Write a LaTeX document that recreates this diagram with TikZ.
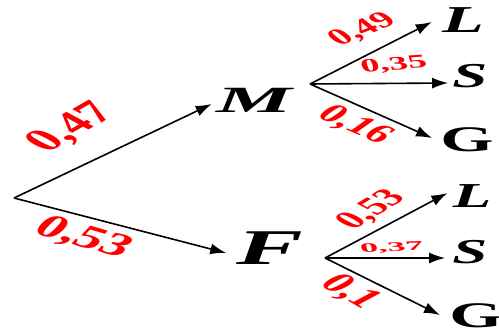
\documentclass[tikz,border=0pt]{standalone}
\usepackage{fontspec}
\setmainfont{Liberation Serif}
\usetikzlibrary{arrows.meta}

\begin{document}
\begin{tikzpicture}[x=1pt,y=-1pt,>={Latex[length=16pt,width=11pt]},
  branch/.style={->,line width=1.6pt},
  event/.style={inner sep=0pt,font=\bfseries\itshape\fontsize{#1}{#1}\selectfont},
  eventup/.style={inner sep=0pt,font=\bfseries\fontsize{#1}{#1}\selectfont},
  prob/.style={red,inner sep=0pt,font=\bfseries\fontsize{#1}{#1}\selectfont}]
  \useasboundingbox (0,0) rectangle (499,332);
  % First level
  \coordinate (root) at (14,198);
  \node[event=37,xscale=2.3] (M) at (254,100) {M};
  \node[event=50,xscale=2] (F) at (270,248) {F};
  \draw[branch] (root) -- ([xshift=-4pt,yshift=-4pt]M.west);
  \draw[branch] (root) -- ([xshift=-10pt,yshift=-5pt]F.west);
  \node[prob=32,xscale=1.8,rotate=46] (p47) at (72,128) {0,47};
  \node[prob=32,xscale=1.8,rotate=-28] (p53) at (83,238) {0,53};
  % Branches after M
  \coordinate (mB) at (310,84);
  \node[event=38,xscale=1.8] (L1) at (463,20) {L};
  \node[event=35,xscale=1.8] (S1) at (470,76) {S};
  \node[eventup=36,xscale=1.9] (G1) at (467,140) {G};
  \draw[branch] (mB) -- ([xshift=-10pt,yshift=-2pt]L1.west);
  \draw[branch] (mB) -- ([xshift=-4pt,yshift=-7pt]S1.west);
  \draw[branch] (mB) -- ([xshift=-8pt,yshift=2pt]G1.west);
  \node[prob=23,xscale=1.8,rotate=35] (p49) at (363,30) {0,49};
  \node[prob=19,xscale=2,rotate=8] (p35) at (394,65) {0,35};
  \node[prob=26,xscale=1.8,rotate=-38] (p16) at (355,125) {0,16};
  % Branches after F
  \coordinate (fB) at (325,258);
  \node[event=35,xscale=1.8] (L2) at (472,196) {L};
  \node[event=35,xscale=1.8] (S2) at (470,252) {S};
  \node[eventup=36,xscale=1.9] (G2) at (476,316) {G};
  \draw[branch] (fB) -- ([xshift=-5pt,yshift=3pt]L2.west);
  \draw[branch] (fB) -- ([xshift=-7pt,yshift=-6pt]S2.west);
  \draw[branch] (fB) -- ([xshift=-9pt,yshift=1pt]G2.west);
  \node[prob=25,xscale=1.8,rotate=47] (p53f) at (372,210) {0,53};
  \node[prob=13,xscale=2.8,rotate=5] (p37) at (392,248) {0,37};
  \node[prob=28,xscale=1.8,rotate=-46] (p1) at (350,292) {0,1};
\end{tikzpicture}
\end{document}
